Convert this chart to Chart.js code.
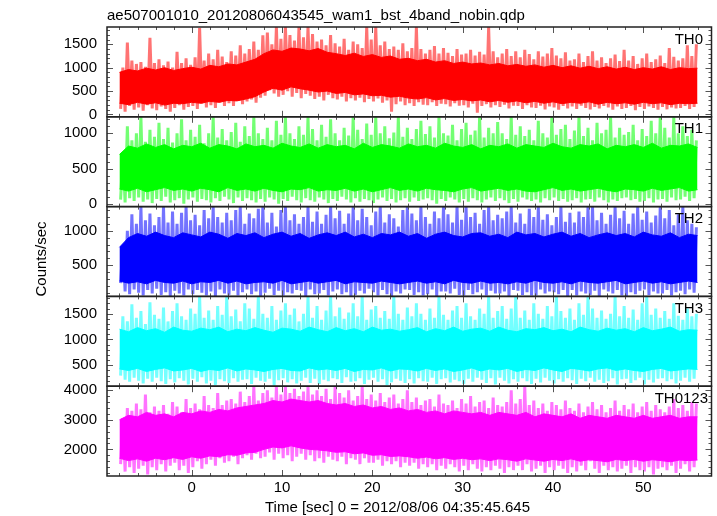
<!DOCTYPE html>
<html>
<head>
<meta charset="utf-8">
<title>ae507001010 wam1 bst 4band light curve</title>
<script src="https://cdn.jsdelivr.net/npm/chart.js@4/dist/chart.umd.min.js"></script>
<style>
  html, body { margin: 0; padding: 0; background: #fff; }
  #wrap { width: 717px; height: 516px; }
</style>
</head>
<body>
<div id="wrap"><canvas id="lc" width="717" height="516"></canvas></div>
<script>
// time bins: 0.5 s bins (centres from -7.75 s), core envelope every 1 s from -8 s
const binStart = -7.75, binStep = 0.5;
const coreStart = -8, coreStep = 1;

const titleText = 'ae507001010_20120806043545_wam1_bst_4band_nobin.qdp';
const xTitle = 'Time [sec] 0 = 2012/08/06 04:35:45.645';
const yTitle = 'Counts/sec';
const timeTicks = [0, 10, 20, 30, 40, 50];

const panelNames = ['TH0', 'TH1', 'TH2', 'TH3', 'TH0123'];
const panelColors = ['#ff0000', '#00ff00', '#0000ff', '#00ffff', '#ff00ff'];
const panelSpike = ['rgba(255,0,0,0.55)', 'rgba(0,255,0,0.55)', 'rgba(0,0,255,0.55)', 'rgba(0,255,255,0.55)', 'rgba(255,0,255,0.55)'];
const panelMin = [-50, -40, 48, 95, 1100];
const panelMax = [1870, 1235, 1350, 1835, 4135];
const th0Ticks = [0, 500, 1000, 1500];
const th1Ticks = [0, 500, 1000];
const th2Ticks = [500, 1000];
const th3Ticks = [500, 1000, 1500];
const th0123Ticks = [2000, 3000, 4000];
const panelMajor = [500, 500, 500, 500, 1000];
const panelMinor = [100, 100, 100, 100, 200];

// ---- TH0 ----
const th0Hi = [1000,1540,1150,1080, 1120,1020,1640,1100, 1180,1050,1130,1000, 1340,1100,1200,1060,
  1220,1850,1150,1300, 1180,1380,1240,1120, 1350,1260,1480,1300, 1400,1560,1380,1690,
  1750,1500,1870,1620, 1870,1700,1580,1870, 1650,1870,1720,1560, 1600,1480,1700,1520,
  1450,1620,1380,1560, 1500,1420,1870,1600, 1870,1480,1560,1400, 1450,1380,1520,1350,
  1420,1870,1400,1300, 1380,1460,1300,1420, 1320,1250,1400,1280, 1300,1380,1260,1340,
  1280,1870,1350,1220, 1300,1400,1250,1350, 1220,1380,1290,1180, 1350,1240,1300,1420,
  1260,1200,1330,1150, 1180,1300,1120,1250, 1350,1150,1220,1100, 1200,1280,1140,1380,
  1150,1250,1080,1200, 1300,1120,1180,1260, 1100,1420,1230,1150, 1200,1480,1250,1500];
const th0Lo = [120,60,180,100, 150,80,200,130, 90,170,120,60, 140,200,100,160,
  180,120,230,150, 200,140,250,180, 240,180,300,220, 280,320,250,360,
  400,520,450,380, 420,500,380,460, 350,440,400,330, 380,300,420,350,
  320,380,280,350, 300,360,260,330, 280,340,250,300, 60,220,280,200,
  240,180,260,210, 200,260,180,230, 220,170,240,190, 200,150,230,40,
  180,220,150,200, 160,210,130,190, 180,120,200,150, 140,190,110,170,
  150,100,180,130, 170,120,190,140, 110,160,130,180, 150,100,170,120,
  140,180,90,160, 120,170,140,100, 160,110,150,130, 140,180,120,160];
const th0CoreHi = [900,960,930,990,950,1000,940,980, 1010,970,1050,1020,1080,1060,1120,1180,
  1300,1380,1350,1420,1400,1360,1410,1330, 1300,1260,1310,1240,1280,1220,1250,1180,
  1200,1150,1180,1120,1150,1090,1120,1080, 1100,1060,1090,1040,1070,1030,1060,1010,
  1050,1000,1040,990,1030,980,1020,970, 1010,960,1000,970,1020,960,1000,980, 990];
const th0CoreLo = [240,210,260,220,250,200,240,230, 260,240,280,260,300,290,330,380,
  480,560,520,590,550,520,480,500, 450,470,420,440,400,410,370,390,
  350,330,360,310,340,300,320,290, 310,270,300,260,290,250,280,240,
  270,230,260,240,270,220,260,230, 250,220,260,230,250,210,240,230, 240];

// ---- TH1 ----
const th1Hi = [700,1100,900,1000, 1235,880,1050,950, 1150,920,1080,870, 1000,1200,900,1050,
  950,1120,860,1000, 1235,940,1060,900, 1020,1150,880,1100, 960,1235,1000,920,
  1080,900,1180,980, 1235,1000,920,1100, 980,1235,1060,900, 1120,950,1200,1000,
  900,1080,970,1235, 1050,920,1140,980, 1235,1000,1100,930, 1010,1235,950,1080,
  920,1060,1180,990, 1100,940,1235,1000, 970,1120,900,1060, 1150,980,1040,1235,
  940,1080,1000,1160, 1000,920,1235,980, 1100,960,1050,900, 1180,1000,940,1235,
  980,1060,1120,920, 1040,1235,960,1080, 900,1150,1000,1050, 1235,940,1080,980,
  1020,1120,900,1060, 960,1180,1000,1235, 1080,940,1235,1000, 1100,960,1050,900];
const th1Lo = [60,20,80,40, 90,30,60,10, 70,40,100,20, 50,80,0,60,
  90,30,70,50, 20,80,40,100, 60,10,90,40, 80,50,20,70,
  30,90,60,0, 70,40,100,50, 20,80,50,30, 90,60,10,70,
  40,100,60,20, 80,30,70,50, 10,60,90,40, 70,20,50,80,
  30,90,40,60, 80,50,0,70, 40,90,60,20, 70,30,80,50,
  20,60,90,40, 80,50,10,70, 30,90,60,40, 60,20,80,50,
  90,40,70,30, 50,80,20,60, 70,30,90,50, 20,60,40,80,
  90,50,70,30, 40,80,20,60, 70,30,90,50, 60,100,40,80];
const th1CoreHi = [700,820,790,850,800,840,780,830, 810,860,790,840,820,780,850,810,
  830,790,860,820,800,850,790,840, 810,830,780,860,800,840,820,790,
  850,810,830,790,860,820,800,840, 780,830,810,850,790,840,820,800,
  860,810,790,840,820,850,780,830, 810,840,800,860,790,830,820,850, 800];
const th1CoreLo = [210,180,220,170,200,230,190,210, 180,220,200,170,230,190,210,180,
  220,190,170,210,200,230,180,200, 190,220,180,210,170,200,230,190,
  210,180,220,200,190,170,210,230, 180,200,220,190,210,180,170,200,
  230,190,210,180,200,220,190,170, 210,200,180,220,190,210,230,180, 200];

// ---- TH2 ----
const th2Hi = [770,1000,1240,1100, 1350,1150,1250,1080, 1200,1350,1120,1280, 1100,1260,1350,1150,
  1230,1080,1300,1180, 1350,1200,1120,1260, 1150,1300,1350,1100, 1250,1180,1320,1350,
  1120,1260,1060,1300, 1350,1150,1240,1100, 1200,1350,1130,1280, 1100,1230,1350,1180,
  1290,1100,1250,1350, 1150,1320,1200,1080, 1280,1350,1120,1240, 1180,1060,1300,1350,
  1250,1150,1350,1200, 1100,1280,1180,1350, 1240,1120,1350,1160, 1350,1200,1260,1100,
  1300,1350,1150,1230, 1180,1280,1350,1120, 1250,1100,1320,1200, 1350,1160,1240,1080,
  1200,1350,1130,1260, 1120,1280,1200,1350, 1350,1150,1260,1100, 1230,1350,1180,1290,
  1100,1250,1350,1160, 1280,1120,1220,1350, 1180,1300,1080,1240, 1350,1150,1100,1050];
const th2Lo = [240,120,80,150, 100,60,140,90, 160,70,110,50, 130,90,60,150,
  80,140,100,60, 120,50,150,90, 70,130,60,110, 150,80,120,50,
  100,160,70,130, 60,110,90,140, 130,50,150,80, 90,140,60,120,
  150,80,110,50, 70,130,90,160, 110,60,140,80, 50,120,90,150,
  140,70,110,60, 80,150,50,120, 120,90,160,70, 60,140,80,110,
  150,60,130,90, 90,120,50,140, 130,70,110,60, 60,150,90,120,
  110,80,140,50, 140,60,120,90, 70,130,50,150, 120,90,140,60,
  50,110,80,130, 150,70,120,90, 90,140,60,110, 130,80,150,100];
const th2CoreHi = [760,900,960,920,980,930,900,970, 940,910,980,950,890,960,930,970,
  900,950,980,920,960,890,940,970, 930,980,910,950,900,960,940,980,
  920,960,890,950,980,930,910,960, 970,920,950,900,980,940,960,910,
  950,980,920,960,900,940,970,930, 960,910,980,940,920,970,900,950, 930];
const th2CoreLo = [270,240,260,230,280,250,240,270, 230,260,250,280,240,270,230,250,
  260,240,280,230,250,270,240,260, 280,230,260,250,240,270,250,230,
  250,270,240,260,230,280,250,240, 270,240,250,230,260,240,280,250,
  240,260,230,270,250,240,260,280, 230,250,270,240,260,230,250,270, 250];

// ---- TH3 ----
const th3Hi = [1450,1350,1680,1420, 1550,1300,1720,1480, 1400,1620,1350,1550, 1700,1450,1380,1600,
  1500,1835,1420,1560, 1380,1650,1480,1835, 1450,1580,1350,1700, 1600,1400,1835,1500,
  1420,1650,1380,1560, 1700,1480,1600,1350, 1500,1835,1420,1650, 1380,1560,1835,1450,
  1620,1400,1520,1700, 1450,1835,1380,1580, 1650,1420,1550,1400, 1835,1500,1380,1620,
  1450,1700,1500,1380, 1600,1420,1835,1480, 1380,1560,1650,1420, 1700,1450,1380,1600,
  1500,1835,1420,1550, 1650,1400,1600,1835, 1420,1560,1380,1700, 1500,1400,1650,1450,
  1835,1550,1420,1600, 1380,1700,1480,1835, 1600,1420,1560,1400, 1500,1835,1450,1650,
  1420,1580,1380,1700, 1835,1480,1600,1420, 1550,1400,1700,1460, 1380,1600,1450,1500];
const th3Lo = [300,220,180,260, 200,150,240,180, 260,190,140,230, 170,250,200,130,
  240,180,270,150, 200,120,230,190, 160,250,180,220, 230,140,260,200,
  180,240,110,210, 250,170,230,150, 200,260,160,240, 140,220,190,250,
  230,160,270,180, 190,250,140,220, 260,180,230,120, 170,240,200,160,
  230,150,250,190, 180,260,140,230, 250,170,220,190, 140,240,180,260,
  220,160,250,130, 260,200,150,230, 180,250,190,140, 240,170,260,200,
  150,230,180,250, 210,140,240,190, 260,180,220,160, 190,250,130,230,
  240,160,210,260, 130,220,170,240, 250,190,230,150, 200,260,180,240];
const th3CoreHi = [1200,1150,1230,1170,1210,1140,1240,1180, 1160,1220,1190,1240,1150,1200,1170,1230,
  1180,1140,1220,1200,1160,1240,1190,1150, 1230,1170,1210,1150,1240,1180,1200,1160,
  1190,1230,1150,1210,1170,1240,1160,1200, 1220,1160,1240,1180,1150,1210,1190,1230,
  1170,1200,1150,1240,1190,1160,1220,1180, 1210,1150,1230,1170,1200,1240,1160,1190, 1180];
const th3CoreLo = [430,400,440,380,420,450,390,410, 440,380,420,400,450,390,430,410,
  380,420,440,400,390,450,410,430, 400,440,380,420,410,450,390,430,
  420,390,440,400,430,380,410,450, 390,430,410,440,380,420,400,450,
  410,380,440,420,390,430,450,400, 430,400,380,420,440,390,410,430, 420];

// ---- TH0123 ----
const th0123Hi = [3050,3400,3300,3550, 3350,3850,3250,3450, 3300,3500,3200,3600, 3450,3250,3700,3400,
  3550,3350,3800,3500, 3400,3900,3500,3650, 3700,3550,3950,3600, 3800,4135,3650,3900,
  4000,3750,4135,3850, 4135,3900,4050,3800, 3950,4135,3850,4000, 3800,4050,3700,4135,
  3900,3750,4000,3650, 3800,4135,3700,3850, 3650,3900,3600,3750, 3850,3550,3700,4000,
  3600,3750,3500,3650, 3700,3450,3850,3550, 3500,3650,3400,3700, 3550,3800,3450,3600,
  3650,3400,3750,3500, 3450,3600,4000,3550, 3700,4135,3500,3650, 3400,3550,3300,3600,
  3500,3350,3650,3400, 3300,3550,3250,3450, 3600,3350,3500,3250, 3400,3650,3300,3500,
  3350,3550,3250,3450, 3600,3300,3500,3350, 3250,3450,3700,3400, 3500,3300,3600,3550];
const th0123Lo = [1500,1250,1400,1200, 1350,1450,1150,1400, 1300,1500,1250,1450, 1550,1300,1450,1200,
  1400,1600,1350,1500, 1650,1450,1700,1550, 1600,1750,1500,1700, 1800,1650,1850,1700,
  1750,1900,1650,1850, 1700,1800,1600,1750, 1850,1650,1800,1600, 1700,1550,1750,1650,
  1600,1750,1500,1700, 1650,1500,1700,1550, 1550,1650,1450,1600, 1500,1600,1400,1550,
  1450,1550,1350,1500, 1400,1500,1300,1450, 1350,1500,1400,1250, 1450,1300,1500,1350,
  1250,1400,1300,1450, 1350,1200,1400,1300, 1450,1300,1500,1250, 1350,1450,1200,1400,
  1300,1450,1350,1200, 1400,1250,1450,1300, 1600,1350,1200,1450, 1300,1400,1250,1350,
  1450,1200,1400,1300, 1250,1400,1150,1350, 1400,1300,1450,1200, 1350,1500,1250,1400];
const th0123CoreHi = [3000,3150,3100,3250,3150,3200,3100,3250, 3200,3300,3250,3350,3300,3400,3450,3500,
  3550,3650,3600,3700,3650,3600,3650,3550, 3500,3550,3450,3500,3400,3450,3350,3400,
  3300,3350,3250,3300,3200,3300,3250,3200, 3250,3150,3250,3200,3150,3250,3100,3200,
  3150,3100,3200,3050,3150,3100,3050,3150, 3100,3050,3150,3050,3100,3150,3050,3100, 3100];
const th0123CoreLo = [1700,1620,1680,1600,1700,1650,1720,1660, 1750,1700,1780,1750,1820,1800,1880,1900,
  2000,2080,2050,2120,2050,2000,1980,1950, 1900,1920,1850,1880,1800,1820,1760,1780,
  1750,1700,1740,1680,1720,1660,1700,1650, 1680,1620,1680,1650,1600,1680,1640,1600,
  1660,1620,1680,1600,1650,1620,1580,1660, 1620,1660,1600,1650,1620,1580,1640,1620, 1640];

const panelHi = [th0Hi, th1Hi, th2Hi, th3Hi, th0123Hi];
const panelLo = [th0Lo, th1Lo, th2Lo, th3Lo, th0123Lo];
const panelCoreHi = [th0CoreHi, th1CoreHi, th2CoreHi, th3CoreHi, th0123CoreHi];
const panelCoreLo = [th0CoreLo, th1CoreLo, th2CoreLo, th3CoreLo, th0123CoreLo];
const panelTicks = [th0Ticks, th1Ticks, th2Ticks, th3Ticks, th0123Ticks];

const FONT = '"Liberation Sans", Arial, Helvetica, sans-serif';

// each 0.5 s bin: its lowest then its highest reading, joined as one light curve
function toCurve(lo, hi) {
  let pts = [];
  hi.forEach((h, i) => {
    const t = binStart + i * binStep;
    pts.push({ x: t - 0.125, y: lo[i] });
    pts.push({ x: t + 0.125, y: h });
  });
  return pts;
}

function toLine(vals) {
  return vals.map((v, i) => ({ x: coreStart + i * coreStep, y: v }));
}

let datasets = [];
panelNames.forEach((name, p) => {
  const yId = 'y' + p;
  datasets.push({
    label: name, data: toCurve(panelLo[p], panelHi[p]), yAxisID: yId,
    borderColor: panelSpike[p], borderWidth: 3, pointRadius: 0, tension: 0, fill: false
  });
  datasets.push({
    label: name + ' core hi', data: toLine(panelCoreHi[p]), yAxisID: yId,
    borderColor: panelColors[p], borderWidth: 1, backgroundColor: panelColors[p],
    pointRadius: 0, tension: 0, fill: '+1'
  });
  datasets.push({
    label: name + ' core lo', data: toLine(panelCoreLo[p]), yAxisID: yId,
    borderColor: panelColors[p], borderWidth: 1, pointRadius: 0, tension: 0, fill: false
  });
});

let scales = {
  x: {
    type: 'linear', position: 'bottom', min: -9.38, max: 57.55, offset: false,
    grid: { display: false, drawTicks: false }, border: { display: false },
    afterBuildTicks: s => { s.ticks = timeTicks.map(v => ({ value: v })); },
    afterFit: s => { s.height = 40; },
    ticks: { color: '#000', font: { family: FONT, size: 15 }, padding: 3, maxRotation: 0, autoSkip: false,
      callback: v => String(v) }
  }
};
// bottom panel first: stacked left axes are laid out last-defined on top
for (let p = panelNames.length - 1; p >= 0; p--) {
  scales['y' + p] = {
    type: 'linear', position: 'left', stack: 'panels', stackWeight: 1, weight: 5 - p,
    min: panelMin[p], max: panelMax[p], beginAtZero: false,
    grid: { display: false, drawTicks: false }, border: { display: false },
    afterBuildTicks: s => { s.ticks = panelTicks[p].map(v => ({ value: v })); },
    afterFit: s => { s.width = 100; },
    ticks: { color: '#000', font: { family: FONT, size: 15 }, padding: 10, autoSkip: false,
      callback: v => String(v) }
  };
}

const framePlugin = {
  id: 'qdpFrames',
  afterDraw(chart) {
    const ctx = chart.ctx;
    const area = chart.chartArea;
    const xs = chart.scales.x;
    ctx.save();
    panelNames.forEach((name, p) => {
      const ys = chart.scales['y' + p];
      const top = ys.top, bottom = ys.bottom;
      ctx.strokeStyle = '#555';
      ctx.lineWidth = 1;
      ctx.beginPath();
      // y ticks, inward on both sides
      for (let v = Math.ceil(ys.min / panelMinor[p]) * panelMinor[p]; v <= ys.max; v += panelMinor[p]) {
        const y = Math.round(ys.getPixelForValue(v)) + 0.5;
        const len = v % panelMajor[p] === 0 ? 6 : 3;
        ctx.moveTo(area.left, y); ctx.lineTo(area.left + len, y);
        ctx.moveTo(area.right, y); ctx.lineTo(area.right - len, y);
      }
      // time ticks at top and bottom of each panel
      for (let t = -8; t <= 56; t += 2) {
        const x = Math.round(xs.getPixelForValue(t)) + 0.5;
        const len = t % 10 === 0 ? 6 : 3;
        ctx.moveTo(x, top); ctx.lineTo(x, top + len);
        ctx.moveTo(x, bottom); ctx.lineTo(x, bottom - len);
      }
      ctx.stroke();
      ctx.strokeStyle = '#222';
      ctx.lineWidth = 1.5;
      ctx.strokeRect(area.left, top, area.right - area.left, bottom - top);
      // panel name
      ctx.fillStyle = '#000';
      ctx.font = '15px ' + FONT;
      ctx.textAlign = 'right';
      ctx.textBaseline = 'alphabetic';
      ctx.fillText(name, p === 4 ? area.right - 3.5 : area.right - 8.5, top + 16.5);
    });
    // title and axis titles
    ctx.fillStyle = '#000';
    ctx.font = '15px ' + FONT;
    ctx.textAlign = 'left';
    ctx.fillText(titleText, area.left, 19.5);
    ctx.textAlign = 'center';
    ctx.fillText(xTitle, 397.5, 511.5);
    ctx.translate(46, 259);
    ctx.rotate(-Math.PI / 2);
    ctx.fillText(yTitle, 0, 0);
    ctx.restore();
  }
};

new Chart(document.getElementById('lc'), {
  type: 'line',
  data: { datasets: datasets },
  options: {
    responsive: false,
    animation: false,
    devicePixelRatio: 1,
    layout: { padding: { left: 7, right: 5.5, top: 27, bottom: 0 } },
    plugins: { legend: { display: false }, tooltip: { enabled: false }, title: { display: false } },
    scales: scales
  },
  plugins: [framePlugin]
});
</script>
</body>
</html>
